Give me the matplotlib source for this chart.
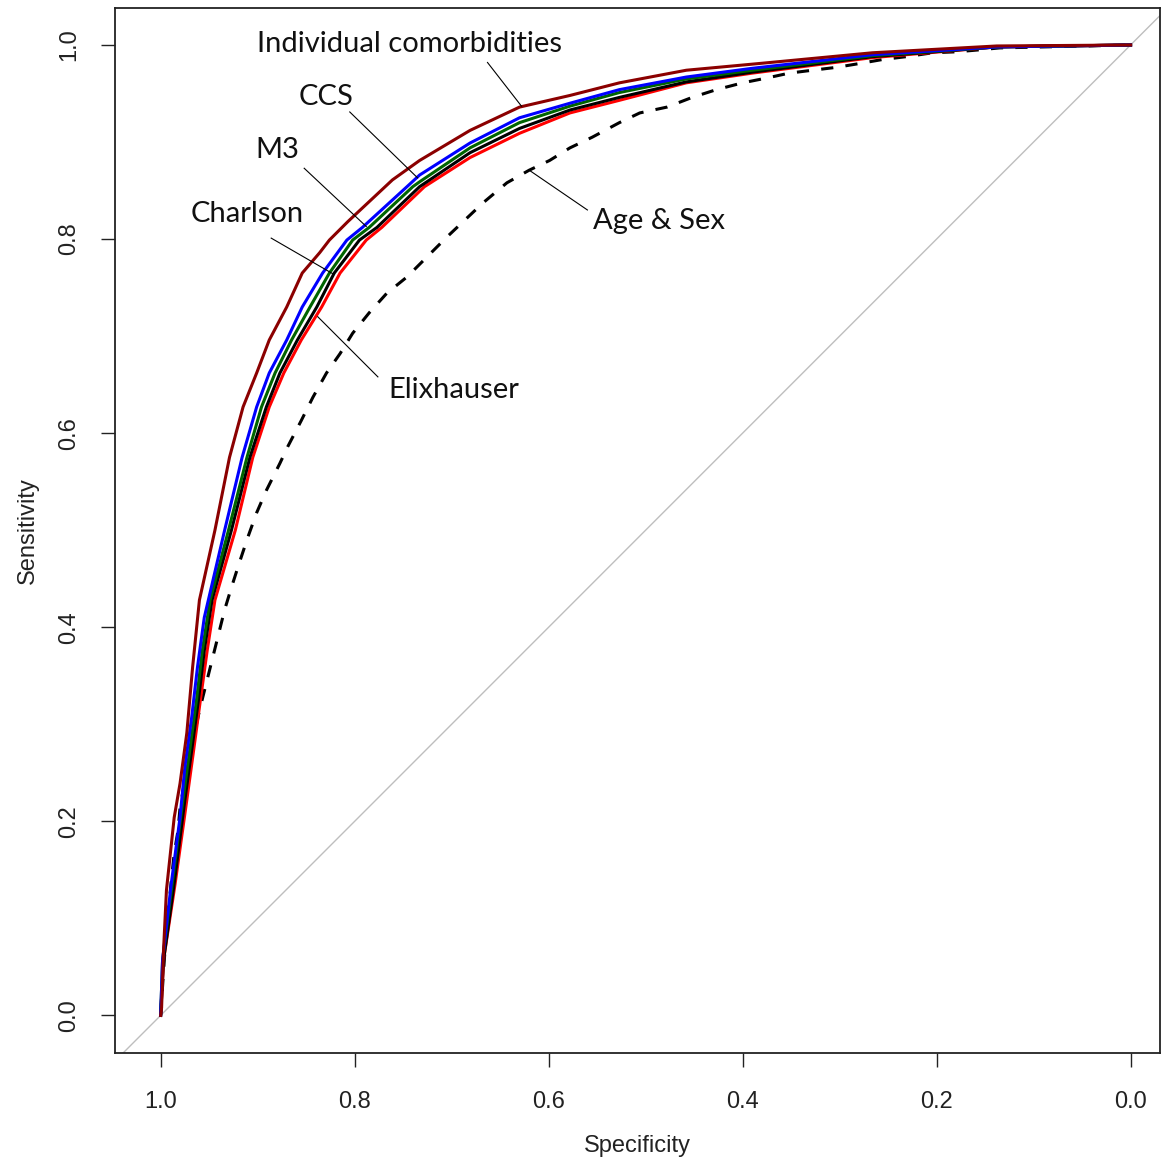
import matplotlib
matplotlib.use("Agg")
import matplotlib.pyplot as plt

# ROC curves: (specificity, sensitivity)
indiv_spec = [1.000, 0.999, 0.997, 0.994, 0.986, 0.980, 0.973, 0.967, 0.960, 0.944, 0.929,
              0.915, 0.901, 0.888, 0.870, 0.854, 0.836, 0.826, 0.807, 0.761, 0.733, 0.681,
              0.630, 0.578, 0.527, 0.458, 0.382, 0.266, 0.138, 0.000]
indiv_sens = [0.000, 0.008, 0.067, 0.129, 0.204, 0.239, 0.291, 0.359, 0.428, 0.500, 0.575,
              0.627, 0.662, 0.696, 0.730, 0.765, 0.786, 0.799, 0.818, 0.861, 0.881, 0.912,
              0.936, 0.948, 0.961, 0.974, 0.981, 0.992, 0.999, 1.000]

ccs_spec = [1.000, 0.998, 0.989, 0.980, 0.975, 0.968, 0.962, 0.955, 0.934, 0.916, 0.901,
            0.888, 0.870, 0.854, 0.833, 0.808, 0.792, 0.746, 0.733, 0.681, 0.630, 0.578,
            0.527, 0.458, 0.390, 0.266, 0.138, 0.000]
ccs_sens = [0.000, 0.057, 0.136, 0.204, 0.256, 0.307, 0.359, 0.410, 0.500, 0.575, 0.627,
            0.662, 0.696, 0.730, 0.765, 0.799, 0.812, 0.854, 0.866, 0.899, 0.925, 0.940,
            0.954, 0.967, 0.976, 0.990, 0.998, 1.000]

m3_spec = [1.000, 0.998, 0.988, 0.977, 0.970, 0.963, 0.957, 0.949, 0.930, 0.911, 0.896,
           0.882, 0.865, 0.846, 0.826, 0.802, 0.785, 0.740, 0.733, 0.681, 0.630, 0.578,
           0.527, 0.458, 0.390, 0.266, 0.138, 0.000]
m3_sens = [0.000, 0.057, 0.136, 0.222, 0.273, 0.325, 0.376, 0.428, 0.500, 0.575, 0.627,
           0.662, 0.696, 0.730, 0.765, 0.799, 0.812, 0.854, 0.859, 0.894, 0.920, 0.937,
           0.951, 0.965, 0.974, 0.989, 0.998, 1.000]

charlson_spec = [1.000, 0.997, 0.986, 0.975, 0.968, 0.961, 0.955, 0.947, 0.927, 0.908, 0.891,
                 0.877, 0.859, 0.839, 0.821, 0.795, 0.777, 0.733, 0.681, 0.630, 0.578,
                 0.527, 0.458, 0.390, 0.266, 0.138, 0.000]
charlson_sens = [0.000, 0.057, 0.136, 0.222, 0.273, 0.325, 0.376, 0.428, 0.500, 0.575, 0.627,
                 0.662, 0.696, 0.730, 0.765, 0.799, 0.812, 0.854, 0.889, 0.914, 0.933,
                 0.946, 0.962, 0.972, 0.988, 0.998, 1.000]

elix_spec = [1.000, 0.997, 0.985, 0.973, 0.966, 0.959, 0.952, 0.944, 0.923, 0.905, 0.888,
             0.873, 0.855, 0.834, 0.815, 0.788, 0.772, 0.728, 0.681, 0.630, 0.578,
             0.527, 0.458, 0.390, 0.266, 0.138, 0.000]
elix_sens = [0.000, 0.057, 0.136, 0.222, 0.273, 0.325, 0.376, 0.428, 0.500, 0.575, 0.627,
             0.662, 0.696, 0.730, 0.765, 0.799, 0.812, 0.854, 0.884, 0.909, 0.930,
             0.943, 0.961, 0.971, 0.987, 0.998, 1.000]

agesex_spec = [1.000, 0.996, 0.994, 0.989, 0.986, 0.982, 0.980, 0.975, 0.970, 0.965, 0.960,
               0.953, 0.947, 0.941, 0.934, 0.927, 0.919, 0.910, 0.901, 0.891, 0.877, 0.869,
               0.855, 0.843, 0.829, 0.815, 0.802, 0.785, 0.767, 0.746, 0.726, 0.705, 0.668,
               0.643, 0.620, 0.599, 0.578, 0.555, 0.527, 0.506, 0.478, 0.452, 0.427, 0.400,
               0.375, 0.352, 0.328, 0.303, 0.279, 0.256, 0.231, 0.204, 0.179, 0.156, 0.135, 0.000]
agesex_sens = [0.000, 0.060, 0.088, 0.139, 0.167, 0.191, 0.214, 0.242, 0.266, 0.291, 0.314,
               0.342, 0.366, 0.390, 0.418, 0.441, 0.466, 0.493, 0.518, 0.541, 0.569, 0.586,
               0.613, 0.637, 0.662, 0.682, 0.703, 0.724, 0.744, 0.761, 0.781, 0.802, 0.837,
               0.858, 0.871, 0.881, 0.894, 0.905, 0.920, 0.930, 0.936, 0.946, 0.954, 0.961,
               0.966, 0.971, 0.974, 0.977, 0.981, 0.985, 0.988, 0.992, 0.993, 0.995, 0.997, 1.000]

# label text position, leader start, leader end
labels = [
    ("Individual comorbidities", (0.743, 1.001), (0.663, 0.982), (0.628, 0.937)),
    ("CCS", (0.829, 0.946), (0.805, 0.931), (0.735, 0.863)),
    ("M3", (0.880, 0.892), (0.852, 0.873), (0.788, 0.813)),
    ("Charlson", (0.911, 0.826), (0.886, 0.801), (0.822, 0.764)),
    ("Elixhauser", (0.698, 0.644), (0.776, 0.658), (0.838, 0.720)),
    ("Age & Sex", (0.486, 0.819), (0.560, 0.830), (0.620, 0.871)),
]

ticks = [1.0, 0.8, 0.6, 0.4, 0.2, 0.0]

tick_font = ["Liberation Sans Narrow", "Liberation Sans", "DejaVu Sans"]
label_font = ["Lato", "DejaVu Sans"]

fig = plt.figure(figsize=(11.62, 11.60), dpi=100)
ax = fig.add_axes([0.099, 0.092, 0.899, 0.901])

ax.plot([1.04, -0.03], [-0.04, 1.03], color="#bebebe", lw=1.0, zorder=1)

lw = 2.2
ax.plot(agesex_spec, agesex_sens, color="black", lw=lw, dashes=(4, 4), zorder=2)
ax.plot(elix_spec, elix_sens, color="#ff0000", lw=lw, zorder=3)
ax.plot(charlson_spec, charlson_sens, color="black", lw=lw, zorder=4)
ax.plot(m3_spec, m3_sens, color="#006400", lw=lw, zorder=5)
ax.plot(ccs_spec, ccs_sens, color="#0000ff", lw=lw, zorder=6)
ax.plot(indiv_spec, indiv_sens, color="#8b0000", lw=lw, zorder=7)

for text, pos, start, end in labels:
    ax.text(pos[0], pos[1], text, ha="center", va="center", fontsize=21,
            family=label_font, color="#111111", zorder=8)
    ax.plot([start[0], end[0]], [start[1], end[1]], color="black", lw=0.8, zorder=8)

ax.set_xlim(1.047, -0.030)
ax.set_ylim(-0.039, 1.038)
ax.set_xticks(ticks)
ax.set_yticks(ticks)
ax.set_xticklabels([f"{t:.1f}" for t in ticks], family=tick_font, fontsize=17)
ax.set_yticklabels([f"{t:.1f}" for t in ticks], family=tick_font, fontsize=17,
                   rotation=90, va="center")
ax.tick_params(length=10, width=1, colors="#222222")
ax.tick_params(axis="x", pad=17)
ax.tick_params(axis="y", pad=15)

ax.set_xlabel("Specificity", family=tick_font, fontsize=17, labelpad=16, color="#222222")
ax.set_ylabel("Sensitivity", family=tick_font, fontsize=17, labelpad=14, color="#222222")

for s in ax.spines.values():
    s.set_linewidth(1.3)
    s.set_color("#222222")

fig.savefig("out.png", dpi=100)
plt.close(fig)
